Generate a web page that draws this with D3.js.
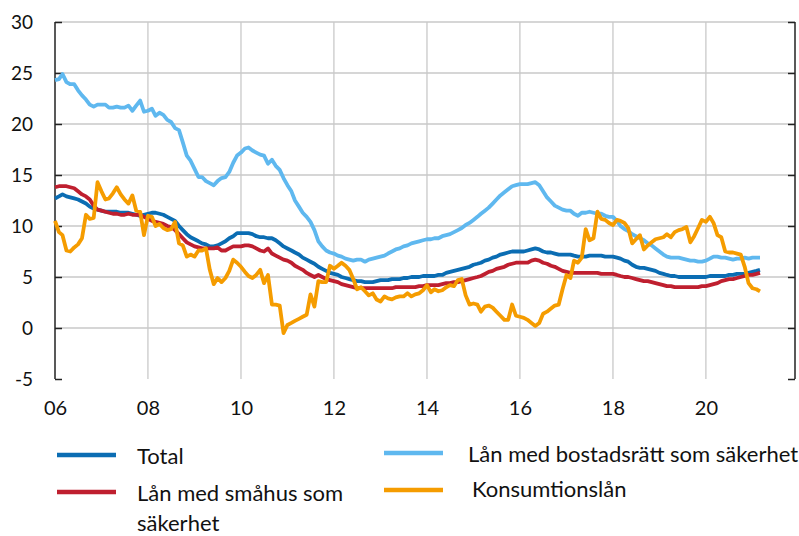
<!DOCTYPE html>
<html>
<head>
<meta charset="utf-8">
<script src="https://cdnjs.cloudflare.com/ajax/libs/d3/7.8.5/d3.min.js"></script>
<style>
  body { margin: 0; background: #fff; }
  svg { display: block; font-family: Lato, "Open Sans", sans-serif; }
</style>
</head>
<body>
<script>
// monthly values, Jan 2006 - Mar 2021 (one row per year)
const total = [
  12.7,12.9,13.1,12.9,12.8,12.7,12.6,12.4,12.2,11.9,11.7,11.6,
  11.5,11.4,11.4,11.4,11.4,11.3,11.3,11.3,11.2,11.1,11.0,11.1,
  11.2,11.3,11.3,11.2,11.1,10.9,10.7,10.5,10.0,9.6,9.2,8.9,
  8.7,8.5,8.3,8.2,8.0,8.0,8.1,8.3,8.5,8.8,9.0,9.3,
  9.3,9.3,9.3,9.2,9.0,8.9,8.9,8.8,8.8,8.6,8.3,8.0,
  7.8,7.6,7.4,7.2,6.9,6.7,6.5,6.3,6.0,5.8,5.6,5.4,
  5.3,5.2,5.0,4.9,4.8,4.7,4.6,4.6,4.5,4.5,4.5,4.6,
  4.7,4.7,4.7,4.8,4.8,4.8,4.9,4.9,5.0,5.0,5.0,5.1,
  5.1,5.1,5.1,5.2,5.2,5.4,5.5,5.6,5.7,5.8,5.9,6.0,
  6.2,6.3,6.4,6.6,6.7,6.9,7.0,7.2,7.3,7.4,7.5,7.5,
  7.5,7.5,7.6,7.7,7.8,7.7,7.5,7.4,7.4,7.3,7.2,7.2,
  7.2,7.2,7.1,7.0,7.0,7.0,7.1,7.1,7.1,7.1,7.0,7.0,
  7.0,6.9,6.8,6.6,6.5,6.2,6.0,5.9,5.9,5.8,5.7,5.6,
  5.4,5.3,5.2,5.1,5.1,5.0,5.0,5.0,5.0,5.0,5.0,5.0,
  5.0,5.1,5.1,5.1,5.1,5.1,5.2,5.2,5.3,5.3,5.3,5.4,
  5.5,5.6,5.7
];
const smahus = [
  13.8,13.9,13.9,13.9,13.8,13.7,13.4,13.1,12.9,12.6,12.0,11.6,
  11.5,11.4,11.3,11.2,11.2,11.1,11.1,11.2,11.1,11.1,11.1,10.9,
  10.7,10.5,10.4,10.3,10.2,10.0,9.9,9.6,9.2,8.8,8.4,8.2,
  8.0,7.9,7.8,7.8,7.8,7.8,7.9,7.6,7.6,7.8,8.0,8.0,
  8.0,8.1,8.1,8.0,7.8,7.6,7.5,7.8,7.3,7.1,6.9,6.7,
  6.6,6.4,6.1,5.9,5.7,5.4,5.2,5.0,5.2,5.0,4.8,4.7,
  4.6,4.5,4.3,4.2,4.1,4.0,3.9,3.9,3.9,3.9,3.9,3.9,
  3.9,3.9,3.9,3.9,4.0,4.0,4.0,4.0,4.0,4.0,4.1,4.1,
  4.2,4.2,4.2,4.2,4.3,4.4,4.4,4.5,4.5,4.6,4.7,4.8,
  4.9,5.0,5.1,5.3,5.5,5.6,5.8,5.9,6.0,6.2,6.3,6.4,
  6.4,6.4,6.4,6.6,6.7,6.6,6.4,6.3,6.1,6.0,5.8,5.6,
  5.5,5.4,5.4,5.4,5.4,5.4,5.4,5.4,5.4,5.3,5.3,5.3,
  5.3,5.2,5.1,5.0,5.0,4.9,4.8,4.7,4.6,4.6,4.5,4.4,
  4.3,4.2,4.1,4.1,4.0,4.0,4.0,4.0,4.0,4.0,4.0,4.1,
  4.1,4.2,4.3,4.4,4.6,4.7,4.8,4.8,4.9,5.0,5.1,5.2,
  5.2,5.3,5.4
];
const bostadsratt = [
  24.3,24.4,24.9,24.1,23.9,23.9,23.3,22.8,22.4,21.9,21.7,21.9,
  21.9,21.9,21.6,21.6,21.7,21.6,21.6,21.8,21.3,21.8,22.3,21.2,
  21.3,21.5,20.8,21.1,20.9,20.4,20.2,19.6,19.4,18.2,16.9,16.4,
  15.6,14.8,14.8,14.4,14.2,14.0,14.4,14.7,14.8,15.3,16.2,16.9,
  17.2,17.6,17.7,17.4,17.2,17.0,16.9,16.1,16.5,15.9,15.5,14.7,
  14.0,13.4,12.5,11.9,11.3,10.9,10.4,9.6,8.5,8.0,7.6,7.4,
  7.3,7.1,7.0,6.8,6.7,6.6,6.7,6.7,6.5,6.7,6.8,6.9,
  7.0,7.1,7.3,7.5,7.7,7.8,8.0,8.1,8.3,8.4,8.5,8.6,
  8.7,8.7,8.8,8.8,9.0,9.1,9.2,9.4,9.6,9.8,10.1,10.3,
  10.6,10.9,11.2,11.5,11.8,12.2,12.6,13.0,13.3,13.6,13.9,14.0,
  14.1,14.1,14.1,14.2,14.3,14.0,13.4,12.8,12.4,12.0,11.8,11.6,
  11.5,11.5,11.2,11.0,11.3,11.3,11.4,11.3,11.2,11.2,11.0,10.9,
  10.9,10.5,10.0,9.7,9.5,9.2,9.0,8.8,8.6,8.3,8.1,7.8,
  7.5,7.2,7.0,6.9,6.9,6.9,6.8,6.7,6.6,6.6,6.5,6.5,
  6.6,6.8,7.0,7.0,6.9,6.9,6.8,6.7,6.8,6.8,6.9,6.8,
  6.9,6.9,6.9
];
const konsumtion = [
  10.5,9.4,9.1,7.6,7.5,7.9,8.2,8.8,11.1,10.7,10.8,14.3,
  13.4,12.6,12.7,13.2,13.8,13.1,12.6,12.2,13.0,11.5,11.4,9.1,
  11.0,10.9,10.0,10.2,9.8,9.6,9.7,10.4,8.3,8.1,7.0,7.2,
  7.0,7.6,7.6,7.8,5.7,4.3,4.9,4.5,4.9,5.6,6.7,6.4,
  6.0,5.5,5.1,4.9,5.2,5.7,4.4,5.2,2.3,2.3,2.2,-0.5,
  0.3,0.5,0.7,0.9,1.1,1.3,3.3,2.1,4.6,4.5,4.5,6.1,
  5.8,6.1,6.4,6.1,5.7,4.8,3.8,4.0,3.6,3.2,3.4,2.8,
  2.6,3.1,2.9,2.8,3.0,3.1,3.1,3.4,3.1,3.3,3.4,3.7,
  4.2,3.5,3.8,3.6,3.7,4.0,4.2,4.1,4.7,4.8,3.2,2.3,
  2.4,2.3,1.6,2.1,2.2,2.0,1.6,1.2,0.8,0.8,2.3,1.2,
  1.1,1.0,0.8,0.5,0.2,0.5,1.4,1.6,1.9,2.2,2.3,3.8,
  5.2,4.9,6.6,6.4,6.9,9.7,8.6,8.8,11.4,10.7,10.6,10.3,
  10.1,10.6,10.5,10.3,9.8,8.3,8.7,9.1,7.7,8.1,8.4,8.7,
  8.8,8.9,9.2,8.9,9.4,9.6,9.7,9.9,8.4,9.0,9.8,10.6,
  10.4,10.9,10.3,9.1,8.9,7.5,7.4,7.4,7.3,7.2,6.0,4.4,
  3.9,3.8,3.6
];

const yTicks = [-5, 0, 5, 10, 15, 20, 25, 30];
const xTickYears = [2006, 2008, 2010, 2012, 2014, 2016, 2018, 2020];

const series = [
  { name: "Lån med bostadsrätt som säkerhet", values: bostadsratt, color: "#5fb8ef" },
  { name: "Total", values: total, color: "#0b6db3" },
  { name: "Lån med småhus som säkerhet", values: smahus, color: "#bf1f2f" },
  { name: "Konsumtionslån", values: konsumtion, color: "#f59c00" }
];

const W = 799, H = 536;
const plotL = 55, plotR = 795, plotT = 22, plotB = 379;

const svg = d3.select("body").append("svg")
  .attr("width", W)
  .attr("height", H);

const x = d3.scaleTime()
  .domain([new Date(2006, 0, 1), new Date(2021, 11, 1)])
  .range([plotL, plotR]);
const y = d3.scaleLinear()
  .domain([-5, 30])
  .range([plotB, plotT]);

const monthDate = i => new Date(2006, i, 1);

// grid
svg.append("g")
  .selectAll("line")
  .data(yTicks.filter(d => d > -5))
  .join("line")
  .attr("x1", plotL).attr("x2", plotR)
  .attr("y1", d => y(d)).attr("y2", d => y(d))
  .attr("stroke", "#c9c9c9")
  .attr("stroke-width", 1.3);

svg.append("g")
  .selectAll("line")
  .data(xTickYears.slice(1))
  .join("line")
  .attr("x1", d => x(new Date(d, 0, 1))).attr("x2", d => x(new Date(d, 0, 1)))
  .attr("y1", plotT).attr("y2", plotB)
  .attr("stroke", "#c9c9c9")
  .attr("stroke-width", 1.3);

// left axis
const yAxis = svg.append("g")
  .attr("transform", `translate(${plotL},0)`)
  .call(d3.axisLeft(y).tickValues(yTicks).tickSize(-7).tickPadding(22).tickFormat(d => String(d)));
yAxis.selectAll("text").attr("font-size", 19).attr("fill", "#111").attr("font-family", "Lato, sans-serif");
yAxis.selectAll("line, path").attr("stroke", "#222").attr("stroke-width", 1.5);
yAxis.select(".domain").attr("d", `M0,${plotT}V${plotB}`);

// right axis
const yAxisR = svg.append("g")
  .attr("transform", `translate(${plotR},0)`)
  .call(d3.axisRight(y).tickValues(yTicks).tickSize(-7).tickFormat(""));
yAxisR.selectAll("line, path").attr("stroke", "#222").attr("stroke-width", 1.5);
yAxisR.select(".domain").attr("d", `M0,${plotT}V${plotB}`);

// bottom labels
const xAxis = svg.append("g")
  .attr("transform", `translate(0,${plotB})`)
  .call(d3.axisBottom(x)
    .tickValues(xTickYears.map(yr => new Date(yr, 0, 1)))
    .tickFormat(d3.timeFormat("%y"))
    .tickSize(0)
    .tickPadding(22));
xAxis.select(".domain").remove();
xAxis.selectAll("text").attr("font-size", 20).attr("fill", "#111").attr("font-family", "Lato, sans-serif");

// lines
const line = d3.line()
  .x((d, i) => x(monthDate(i)))
  .y(d => y(d));

svg.append("g")
  .selectAll("path")
  .data(series)
  .join("path")
  .attr("d", d => line(d.values))
  .attr("fill", "none")
  .attr("stroke", d => d.color)
  .attr("stroke-width", 3.8)
  .attr("stroke-linejoin", "round");

// legend
const legendItems = [
  { s: series[1], lx: 57, ly: 455, tx: 137, ty: 464, lines: ["Total"] },
  { s: series[2], lx: 57, ly: 492, tx: 137, ty: 501, lines: ["Lån med småhus som", "säkerhet"] },
  { s: series[0], lx: 384, ly: 453, tx: 468, ty: 462, lines: ["Lån med bostadsrätt som säkerhet"] },
  { s: series[3], lx: 384, ly: 490, tx: 472, ty: 497, lines: ["Konsumtionslån"] }
];

const legend = svg.append("g");
legend.selectAll("line")
  .data(legendItems)
  .join("line")
  .attr("x1", d => d.lx).attr("x2", d => d.lx + 59)
  .attr("y1", d => d.ly).attr("y2", d => d.ly)
  .attr("stroke", d => d.s.color)
  .attr("stroke-width", 4.5);

legend.selectAll("text")
  .data(legendItems)
  .join("text")
  .attr("x", d => d.tx)
  .attr("y", d => d.ty)
  .attr("font-size", 22)
  .attr("fill", "#111")
  .each(function (d) {
    d3.select(this).selectAll("tspan")
      .data(d.lines)
      .join("tspan")
      .attr("x", d.tx)
      .attr("dy", (t, i) => i === 0 ? 0 : 30)
      .text(t => t);
  });
</script>
</body>
</html>
